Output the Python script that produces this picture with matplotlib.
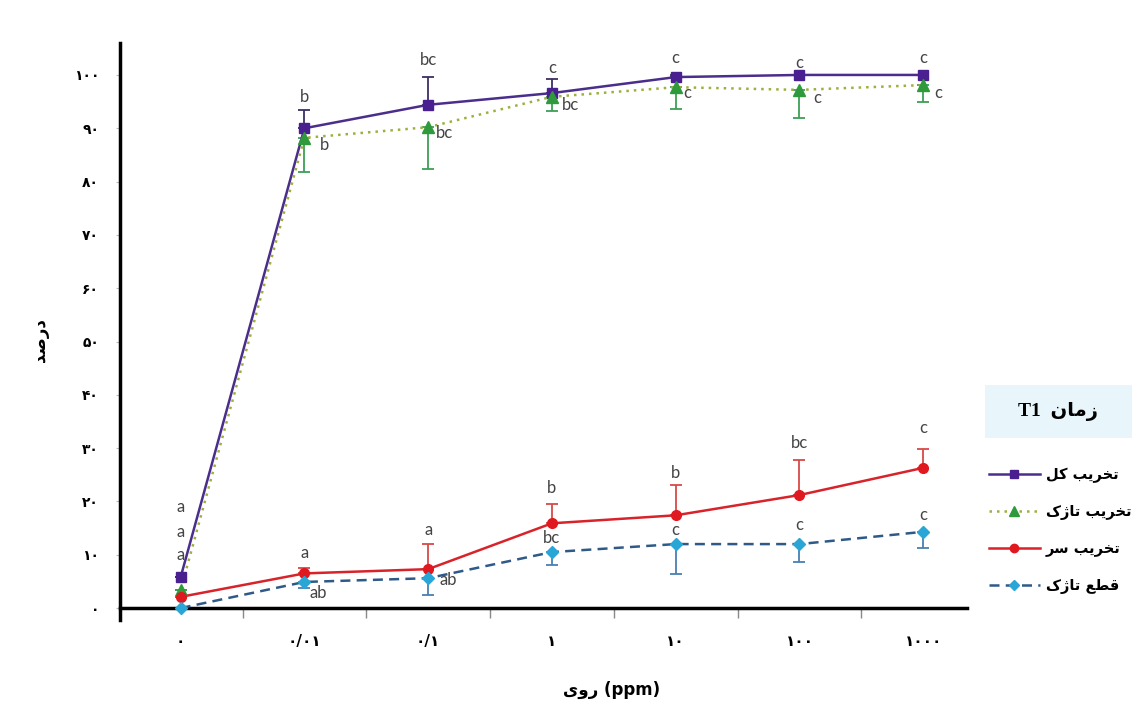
import matplotlib
matplotlib.use("Agg")
import matplotlib.pyplot as plt
from matplotlib.lines import Line2D
from matplotlib.patches import Rectangle

#----------------------------------------------------------
#- Data
#----------------------------------------------------------
categories = ["۰", "۰/۰۱", "۰/۱", "۱", "۱۰", "۱۰۰", "۱۰۰۰"]
y_ticks = [0, 10, 20, 30, 40, 50, 60, 70, 80, 90, 100]

total = [5.8, 90.0, 94.4, 96.6, 99.6, 100.0, 100.0]        # تخریب کل
total_err = [0, 3.4, 5.2, 2.6, 0.4, 0, 0]
total_letters = ["a", "b", "bc", "c", "c", "c", "c"]

flag = [3.4, 88.2, 90.2, 95.9, 97.7, 97.2, 98.1]           # تخریب تاژک
flag_err = [0, 6.4, 7.8, 2.7, 4.1, 5.3, 3.1]
flag_letters = ["a", "b", "bc", "bc", "c", "c", "c"]

head = [2.1, 6.5, 7.3, 15.9, 17.4, 21.2, 26.3]             # تخریب سر
head_err = [0, 1.1, 4.7, 3.6, 5.7, 6.6, 3.5]
head_letters = ["a", "a", "a", "b", "b", "bc", "c"]

cut = [0, 4.9, 5.6, 10.5, 12.0, 12.0, 14.3]                # قطع تاژک
cut_err = [0, 1.1, 3.2, 2.4, 5.7, 3.4, 3.0]
cut_letters = ["", "ab", "ab", "bc", "c", "c", "c"]

series_names = ["تخریب کل", "تخریب تاژک", "تخریب سر", "قطع تاژک"]

#- letter placement (dx in categories, y in percent)
total_lpos = [(0, 19.0), (0, 95.9), (0, 102.8), (0, 101.3), (0, 103.2), (0, 102.3), (0, 103.2)]
flag_lpos = [(0, 14.3), (0.16, 86.9), (0.13, 89.1), (0.15, 94.4), (0.09, 96.6), (0.14, 95.7), (0.12, 96.6)]
head_lpos = [(0, 9.9), (0, 10.3), (0, 14.6), (0, 22.5), (0, 25.3), (0, 31.0), (0, 33.8)]
cut_lpos = [(0, 0), (0.11, 2.8), (0.16, 5.3), (0, 13.1), (0, 14.6), (0, 15.6), (0, 17.4)]

#----------------------------------------------------------
#- Minimal Persian shaping (matplotlib has no complex text layout)
#----------------------------------------------------------
FORMS = {
    'ا': ('\ufe8d', '\ufe8e', None, None),
    'ب': ('\ufe8f', '\ufe90', '\ufe91', '\ufe92'),
    'ت': ('\ufe95', '\ufe96', '\ufe97', '\ufe98'),
    'خ': ('\ufea5', '\ufea6', '\ufea7', '\ufea8'),
    'د': ('\ufea9', '\ufeaa', None, None),
    'ر': ('\ufead', '\ufeae', None, None),
    'ز': ('\ufeaf', '\ufeb0', None, None),
    'ژ': ('\ufb8a', '\ufb8b', None, None),
    'س': ('\ufeb1', '\ufeb2', '\ufeb3', '\ufeb4'),
    'ص': ('\ufeb9', '\ufeba', '\ufebb', '\ufebc'),
    'ط': ('\ufec1', '\ufec2', '\ufec3', '\ufec4'),
    'ع': ('\ufec9', '\ufeca', '\ufecb', '\ufecc'),
    'ق': ('\ufed5', '\ufed6', '\ufed7', '\ufed8'),
    '\u06a9': ('\ufb8e', '\ufb8f', '\ufb90', '\ufb91'),
    '\u0643': ('\ufb8e', '\ufb8f', '\ufb90', '\ufb91'),
    'ل': ('\ufedd', '\ufede', '\ufedf', '\ufee0'),
    'م': ('\ufee1', '\ufee2', '\ufee3', '\ufee4'),
    'ن': ('\ufee5', '\ufee6', '\ufee7', '\ufee8'),
    'و': ('\ufeed', '\ufeee', None, None),
    '\u06cc': ('\ufbfc', '\ufbfd', '\ufbfe', '\ufbff'),
    '\u064a': ('\ufbfc', '\ufbfd', '\ufbfe', '\ufbff'),
}


def shape(word):
    """Return the word in presentation forms, in visual (left to right) order"""
    out = []
    for i, ch in enumerate(word):
        if ch not in FORMS:
            out.append(ch)
            continue
        f = FORMS[ch]
        prev = word[i - 1] if i > 0 else None
        nxt = word[i + 1] if i < len(word) - 1 else None
        jp = prev in FORMS and FORMS[prev][2] is not None
        jn = nxt in FORMS and f[2] is not None
        if jp and jn:
            out.append(f[3])
        elif jp:
            out.append(f[1])
        elif jn:
            out.append(f[2])
        else:
            out.append(f[0])
    return "".join(out)[::-1]


def fa_digits(n):
    return str(n).translate(str.maketrans("0123456789", "۰۱۲۳۴۵۶۷۸۹"))


#----------------------------------------------------------
#- Plot
#----------------------------------------------------------
plt.rcParams['font.family'] = ['DejaVu Sans']
fig = plt.figure(figsize=(11.44, 7.16), dpi=100)
ax = fig.add_axes([0.1049, 0.134, 0.740, 0.806])

x = list(range(len(categories)))

styles = [
    dict(vals=total, err=total_err, letters=total_letters, lpos=total_lpos, up=True,
         color='#4b2d8c', mcolor='#4a1f8f', ecolor='#3d3060', ls='-', marker='s', ms=7),
    dict(vals=flag, err=flag_err, letters=flag_letters, lpos=flag_lpos, up=False,
         color='#9db03c', mcolor='#2f9a3c', ecolor='#3d9f55', ls=(0, (1, 2)), marker='^', ms=8),
    dict(vals=head, err=head_err, letters=head_letters, lpos=head_lpos, up=True,
         color='#d8232a', mcolor='#e01820', ecolor='#d84a4a', ls='-', marker='o', ms=7),
    dict(vals=cut, err=cut_err, letters=cut_letters, lpos=cut_lpos, up=False,
         color='#2f5a88', mcolor='#2aa6d6', ecolor='#4a7fb2', ls=(0, (4, 2.5)), marker='D', ms=6),
]

handles = []
for st in styles:
    zeros = [0] * len(st['err'])
    yerr = [zeros, st['err']] if st['up'] else [st['err'], zeros]
    ax.errorbar(x, st['vals'], yerr=yerr, fmt='none', ecolor=st['ecolor'],
                elinewidth=1.3, capsize=4, capthick=1.3, clip_on=False, zorder=2)
    ax.plot(x, st['vals'], color=st['color'], ls=st['ls'], lw=1.8, zorder=3, clip_on=False)
    ax.plot(x, st['vals'], ls='none', marker=st['marker'], ms=st['ms'],
            mfc=st['mcolor'], mec=st['mcolor'], zorder=4, clip_on=False)
    for i, letter in enumerate(st['letters']):
        if letter:
            dx, ly = st['lpos'][i]
            ax.text(i + dx, ly, letter, ha='center', va='center', fontsize=12,
                    color='#444444', family='Lato', zorder=5)
    handles.append(Line2D([], [], color=st['color'], ls=st['ls'], lw=1.8,
                          marker=st['marker'], ms=st['ms'] - 1,
                          mfc=st['mcolor'], mec=st['mcolor']))

ax.set_xlim(-0.49, 6.35)
ax.set_ylim(-2.25, 106)

for side in ['top', 'right']:
    ax.spines[side].set_visible(False)
ax.spines['bottom'].set_position(('data', 0))
ax.spines['left'].set_linewidth(2.5)
ax.spines['bottom'].set_linewidth(2.5)

ax.set_xticks(x)
ax.set_xticklabels(categories, fontsize=11, fontweight='bold')
ax.set_xticks([i + 0.5 for i in range(6)], minor=True)
ax.tick_params(axis='x', which='major', length=0, pad=19)
ax.tick_params(axis='x', which='minor', length=7, width=1, color='#888888', direction='out')

ax.set_yticks(y_ticks)
ax.set_yticklabels([fa_digits(v) for v in y_ticks], fontsize=10, fontweight='bold')
ax.tick_params(axis='y', length=3, width=0.8, color='#bbbbbb', pad=12)

fig.text(0.035, 0.525, shape("درصد"), rotation=90, ha='center', va='center',
         fontsize=12, fontweight='bold')
fig.text(0.535, 0.037, shape("روی") + " (ppm)", ha='center', va='center',
         fontsize=12, fontweight='bold')

#- legend with its title box
fig.add_artist(Rectangle((0.861, 0.388), 0.1285, 0.074, transform=fig.transFigure,
                         facecolor='#e8f5fa', edgecolor='none'))
fig.text(0.925, 0.425, "T1  " + shape("زمان"), ha='center', va='center', fontsize=14,
         fontweight='bold', family=['Liberation Serif', 'DejaVu Sans'])

fig.legend(handles, [shape(n) for n in series_names], loc='upper left',
           bbox_to_anchor=(0.858, 0.358), frameon=False, borderpad=0,
           handlelength=3.5, handletextpad=0.4, labelspacing=1.45,
           prop={'size': 10.5, 'weight': 'bold'})

fig.savefig("out.png", dpi=100)
